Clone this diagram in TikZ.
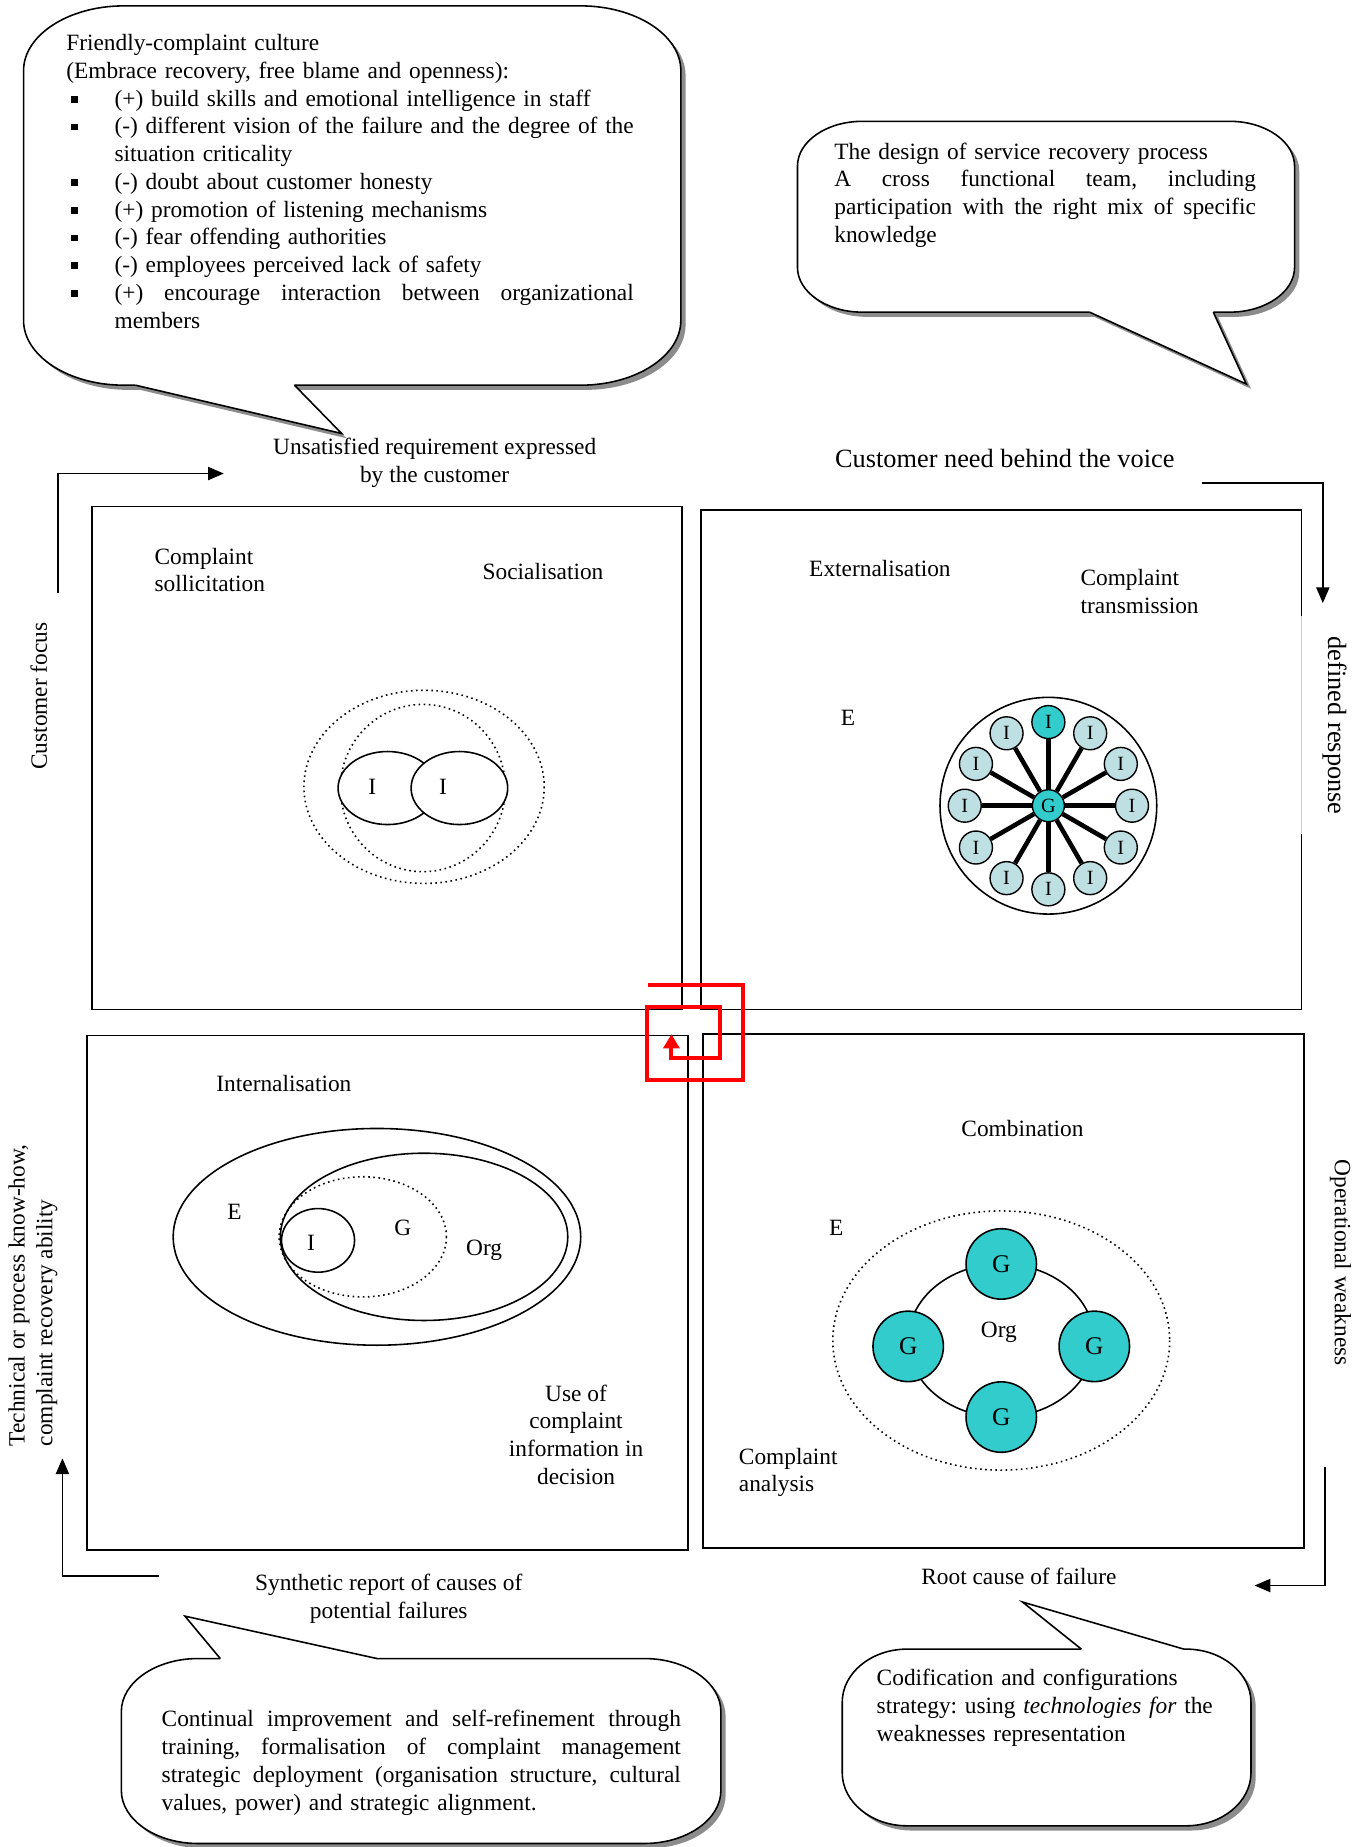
\documentclass[tikz,border=0pt]{standalone}
\usepackage{fontspec}
\setmainfont{Liberation Serif}
\usetikzlibrary{arrows.meta}
\definecolor{tealG}{RGB}{51,204,204}
\definecolor{paleI}{RGB}{190,224,227}
\frenchspacing
\newcommand{\sqitem}[1]{\par\hangindent=0.966cm\hangafter=0\noindent\llap{\makebox[0.872cm][l]{\raisebox{2pt}{\rule{3.8pt}{3.8pt}}}}#1}
\newcommand{\jline}[2]{\hbox to #1{\spaceskip=0.25em plus 1fil minus 0.05em\xspaceskip=0.25em plus 1fil\relax #2}}
\tikzset{bubble/.style n args={6}{insert path={(#1+#5,#2) -- (#3-#5,#2) .. controls (#3-0.45*#5,#2) and (#3,#2+0.45*#6) .. (#3,#2+#6) -- (#3,#4-#6) .. controls (#3,#4-0.45*#6) and (#3-0.45*#5,#4) .. (#3-#5,#4) -- (#1+#5,#4) .. controls (#1+0.45*#5,#4) and (#1,#4-0.45*#6) .. (#1,#4-#6) -- (#1,#2+#6) .. controls (#1,#2+0.45*#6) and (#1+0.45*#5,#2) .. (#1+#5,#2) -- cycle}}}

\begin{document}
\begin{tikzpicture}[x=0.02357cm, y=-0.02357cm, every node/.style={inner sep=0pt, font=\fontsize{13.3}{15.8}\selectfont}, quadbox/.style={draw, line width=0.9pt}, bubbleline/.style={draw, fill=white, line width=0.9pt}, shadowfill/.style={fill=gray!90}, flow/.style={line width=0.9pt, -{Triangle[length=9pt,width=7.5pt]}}, spiral/.style={red, line width=2.3pt, -{Triangle[length=8pt,width=9pt]}}, iball/.style={circle, draw, line width=0.8pt, fill=paleI, minimum size=0.66cm, font=\fontsize{11.5}{13}\selectfont}, gball/.style={circle, draw, line width=0.9pt, fill=tealG, minimum size=1.41cm, font=\fontsize{14.5}{16}\selectfont}, spoke/.style={line width=2.6pt}, bigtext/.style={font=\fontsize{15}{17}\selectfont}]
\useasboundingbox (0,0) rectangle (1161,1568);

% callouts: shadow, body, tail
\fill[shadowfill, shift={(4,4)}] [bubble={20}{5}{578}{327}{85}{55}]; \fill[shadowfill] (119,331) -- (294,372) -- (254,331) -- cycle;
\path[bubbleline] [bubble={20}{5}{578}{327}{85}{55}];
\fill[white] (115,324) -- (115,327) -- (290,368) -- (250,327) -- (250,324) -- cycle; \draw[line width=0.9pt] (115,327) -- (290,368) -- (250,327);

\fill[shadowfill, shift={(4,4)}] [bubble={677}{103}{1099}{265}{55}{38}]; \fill[shadowfill] (929,269) -- (1062,330) -- (1034,269) -- cycle;
\path[bubbleline] [bubble={677}{103}{1099}{265}{55}{38}];
\fill[white] (925,262) -- (925,265) -- (1058,326) -- (1030,265) -- (1030,262) -- cycle; \draw[line width=0.9pt] (925,265) -- (1058,326) -- (1030,265);

\fill[shadowfill, shift={(4,4)}] [bubble={103}{1408}{612}{1565}{65}{45}];
\path[bubbleline] [bubble={103}{1408}{612}{1565}{65}{45}];
\fill[white] (187,1411) -- (187,1408) -- (157,1372) -- (320,1408) -- (320,1411) -- cycle; \draw[line width=0.9pt] (187,1408) -- (157,1372) -- (320,1408);

\fill[shadowfill, shift={(4,4)}] [bubble={715}{1400}{1062}{1550}{55}{45}];
\path[bubbleline] [bubble={715}{1400}{1062}{1550}{55}{45}];
\fill[white] (918,1403) -- (918,1400) -- (868,1360) -- (1005,1400) -- (1005,1403) -- cycle; \draw[line width=0.9pt] (918,1400) -- (868,1360) -- (1005,1400);

\node[anchor=base west, text width=11.36cm] (cultureText) at (56,43) {Friendly-complaint culture\par (Embrace recovery, free blame and openness):
\sqitem{(+) build skills and emotional intelligence in staff}
\sqitem{\jline{10.39cm}{(-) different vision of the failure and the degree of the}\newline situation criticality}
\sqitem{(-) doubt about customer honesty}
\sqitem{(+) promotion of listening mechanisms}
\sqitem{(-) fear offending authorities}
\sqitem{(-) employees perceived lack of safety}
\sqitem{\jline{10.39cm}{(+) encourage interaction between organizational}\newline members}\par};
\node[anchor=base west, text width=8.44cm] (designText) at (708,135) {The design of service recovery process\par \jline{8.44cm}{A cross functional team, including}\par \jline{8.44cm}{participation with the right mix of specific}\par knowledge};
\node[anchor=base west, text width=10.39cm] (improveText) at (137,1466) {\jline{10.39cm}{Continual improvement and self-refinement through}\par \jline{10.39cm}{training, formalisation of complaint management}\par \jline{10.39cm}{strategic deployment (organisation structure, cultural}\par values, power) and strategic alignment.};
\node[anchor=base west, text width=7.6cm] (codifyText) at (744,1431) {Codification and configurations\par strategy: using \textit{technologies for} the\par weaknesses representation};

% quadrants
\draw[quadbox] (78,430) rectangle (579,857);
\draw[quadbox] (1105,523) -- (1105,433) -- (595,433) -- (595,857) -- (1105,857) -- (1105,708); \draw[gray!40, line width=0.6pt] (1105,523) -- (1105,708);
\draw[quadbox] (74,879) rectangle (584,1316);
\draw[quadbox] (597,878) rectangle (1107,1314);

% socialisation
\node[align=left, anchor=west] (sollicit) at (131,484) {Complaint\\sollicitation};
\node (social) at (461,485) {Socialisation};
\draw[dotted, line width=0.9pt] (360,668) ellipse [x radius=102, y radius=82];
\draw[dotted, line width=0.9pt] (359,669) ellipse [x radius=70, y radius=71];
\draw[line width=0.9pt, fill=white] (329,669) ellipse [x radius=42, y radius=31];
\draw[line width=0.9pt, fill=white] (390,669) ellipse [x radius=41, y radius=31];
\node (iLeft) at (316,668) {I}; \node (iRight) at (376,668) {I};

% externalisation
\node (external) at (747,483) {Externalisation};
\node[align=left, anchor=west] (transmit) at (917,502) {Complaint\\transmission};
\node (eTR) at (720,609) {E};
\draw[line width=0.9pt] (890,684) circle [radius=92];
\node[circle, draw, line width=0.8pt, fill=tealG, minimum size=0.64cm, font=\fontsize{11.5}{13}\selectfont] (hub) at (890,684) {G};
\foreach \k in {0,1,...,8,10,11} \node[iball] (spk\k) at ([shift={(890,684)}] 30*\k:71) {I};
\node[iball, fill=tealG] (spk9) at ([shift={(890,684)}] 270:71) {I};
\foreach \k in {0,...,11} \draw[spoke] (hub) -- (spk\k);

% internalisation
\node (internal) at (241,920) {Internalisation};
\draw[line width=0.9pt] (320,1050) ellipse [x radius=173, y radius=92];
\draw[line width=0.9pt] (360,1050) ellipse [x radius=122, y radius=71];
\draw[dotted, line width=0.9pt] (308,1050) ellipse [x radius=71, y radius=51];
\draw[line width=0.9pt] (270,1053) ellipse [x radius=31, y radius=27];
\node (eBL) at (199,1029) {E}; \node (iBL) at (264,1055) {I}; \node (gBL) at (342,1042) {G}; \node (orgBL) at (411,1061) {Org};
\node[align=center] (useInfo) at (489,1218) {Use of\\complaint\\information in\\decision};

% combination
\node (combine) at (868,958) {Combination};
\node (eBR) at (710,1042) {E};
\draw[dotted, line width=0.9pt] (850,1138) ellipse [x radius=143, y radius=110];
\draw[line width=0.9pt] (850,1138) ellipse [x radius=79, y radius=65];
\node[gball] (gTop) at (850,1073) {G}; \node[gball] (gLeft) at (771,1143) {G}; \node[gball] (gRight) at (929,1143) {G}; \node[gball] (gBottom) at (850,1203) {G};
\node (orgBR) at (848,1131) {Org};
\node[align=left, anchor=west] (analysis) at (627,1250) {Complaint\\analysis};

% spiral in the middle
\draw[spiral] (550,836) -- (631,836) -- (631,917) -- (549,917) -- (549,855) -- (611,855) -- (611,898) -- (570,898) -- (570,878);

% flows round the quadrants
\node[align=center] (reqLabel) at (369,393) {Unsatisfied requirement expressed\\by the customer};
\node[bigtext] (voiceLabel) at (853,389) {Customer need behind the voice};
\node[rotate=90] (focusLabel) at (33,591) {Customer focus};
\node[bigtext, rotate=-90] (responseLabel) at (1133,616) {defined response};
\node[rotate=-90] (weakLabel) at (1138,1072) {Operational weakness};
\node[rotate=90, anchor=west, align=left] (knowLabel) at (28,1228) {Technical or process know-how,\\complaint recovery ability};
\node[align=center] (synthLabel) at (330,1357) {Synthetic report of causes of\\potential failures};
\node (rootLabel) at (865,1338) {Root cause of failure};
\coordinate (focusStart) at (49,503); \coordinate (focusEnd) at (190,402);
\coordinate (voiceStart) at (1020,410); \coordinate (voiceEnd) at (1123,512);
\coordinate (weakStart) at (1125,1245); \coordinate (weakEnd) at (1065,1346);
\coordinate (synthStart) at (135,1338); \coordinate (synthEnd) at (53,1238);
\draw[flow] (focusStart) |- (focusEnd);
\draw[flow] (voiceStart) -| (voiceEnd);
\draw[flow] (weakStart) |- (weakEnd);
\draw[flow] (synthStart) -| (synthEnd);
\end{tikzpicture}
\end{document}
